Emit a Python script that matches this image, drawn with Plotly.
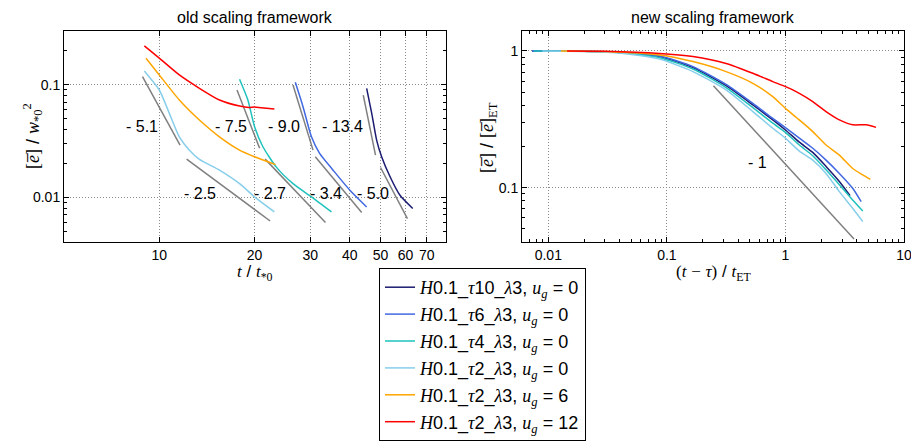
import math
import plotly.graph_objects as go

# ---------------- data: old scaling framework (left) ----------------
old_t_tau10 = [45.2, 46.9, 48.6, 50.4, 53.6, 57.6, 63.2]
old_e_tau10 = [0.0929, 0.0556, 0.0322, 0.0229, 0.0152, 0.0104, 0.00794]
old_t_tau6 = [26.9, 28.45, 30.25, 32.1, 35.4, 40.0, 45.2]
old_e_tau6 = [0.105, 0.0637, 0.0344, 0.0245, 0.0174, 0.01154, 0.0082]
old_t_tau4 = [17.93, 19.05, 20.0, 21.25, 23.4, 26.45, 30.25, 35.0]
old_e_tau4 = [0.1117, 0.0731, 0.0423, 0.0281, 0.0186, 0.0132, 0.01007, 0.0074]
old_t_tau2_u0 = [8.97, 10.0, 10.76, 11.57, 12.45, 13.39, 15.49, 17.93, 20.0, 23.1]
old_e_tau2_u0 = [0.1324, 0.0897, 0.0556, 0.0344, 0.0262, 0.0217, 0.0174, 0.0132, 0.01007, 0.0074]
old_t_tau2_u6 = [9.08, 10.0, 11.57, 13.39, 15.49, 17.93, 20.0, 23.3]
old_e_tau2_u6 = [0.172, 0.122, 0.0731, 0.0485, 0.0344, 0.0262, 0.0229, 0.0195]
old_t_tau2_u12 = [8.97, 10.0, 11.57, 13.39, 15.49, 17.93, 19.2, 20.0, 21.0, 23.1]
old_e_tau2_u12 = [0.221, 0.172, 0.122, 0.0929, 0.0731, 0.0646, 0.0628, 0.0635, 0.0625, 0.0608]

# power-law fit segments (start, end) and slope labels
fit_t = [[8.85, 11.63], [12.2, 22.4], [17.6, 20.75], [21.6, 33.5],
         [26.45, 30.6], [31.1, 43.6], [44.1, 48.2], [50.0, 60.8]]
fit_e = [[0.1178, 0.0290], [0.02178, 0.00615], [0.0897, 0.0272], [0.0218, 0.00595],
         [0.0993, 0.0262], [0.02287, 0.00731], [0.0809, 0.02366], [0.01837, 0.00646]]
slope_labels = ["- 5.1", "- 2.5", "- 7.5", "- 2.7", "- 9.0", "- 3.4", "- 13.4", "- 5.0"]
slope_label_t = [8.83, 13.4, 16.9, 22.3, 24.7, 33.6, 38.0, 47.3]
slope_label_e = [0.0429, 0.01086, 0.0429, 0.01086, 0.0429, 0.01086, 0.0429, 0.01086]

# ---------------- data: new scaling framework (right) ----------------
new_x_tau10 = [0.0073, 0.02, 0.04, 0.0867, 0.166, 0.316, 0.531, 0.782, 1.0, 1.31, 1.70, 2.20, 2.85, 3.51]
new_y_tau10 = [1.0, 0.995, 0.975, 0.91, 0.755, 0.557, 0.403, 0.313, 0.264, 0.215, 0.181, 0.143, 0.111, 0.0873]
new_x_tau6 = [0.0073, 0.02, 0.04, 0.0867, 0.166, 0.316, 0.531, 0.782, 1.0, 1.31, 1.70, 2.20, 2.85, 3.69, 4.35]
new_y_tau6 = [1.0, 0.995, 0.975, 0.918, 0.768, 0.570, 0.414, 0.321, 0.275, 0.230, 0.194, 0.159, 0.127, 0.0989, 0.079]
new_x_tau4 = [0.0075, 0.02, 0.04, 0.0867, 0.166, 0.316, 0.531, 0.782, 1.0, 1.31, 1.70, 2.20, 2.85, 3.69, 4.49]
new_y_tau4 = [1.0, 0.995, 0.972, 0.893, 0.738, 0.539, 0.385, 0.296, 0.254, 0.205, 0.171, 0.135, 0.105, 0.0813, 0.0675]
new_x_tau2_u0 = [0.0089, 0.02, 0.04, 0.0867, 0.166, 0.316, 0.531, 0.782, 1.0, 1.31, 1.70, 2.20, 2.85, 3.69, 4.49]
new_y_tau2_u0 = [1.0, 0.993, 0.968, 0.873, 0.706, 0.519, 0.360, 0.272, 0.230, 0.185, 0.159, 0.127, 0.0935, 0.0706, 0.0564]
new_x_tau2_u6 = [0.0128, 0.03, 0.0867, 0.166, 0.316, 0.531, 0.782, 1.0, 1.31, 1.70, 2.20, 2.85, 3.69, 4.49, 5.2]
new_y_tau2_u6 = [1.0, 0.99, 0.935, 0.836, 0.706, 0.58, 0.463, 0.38, 0.313, 0.257, 0.205, 0.173, 0.138, 0.124, 0.115]
new_x_tau2_u12 = [0.0144, 0.03, 0.0867, 0.166, 0.316, 0.531, 0.782, 1.0, 1.31, 1.70, 2.20, 2.85, 3.69, 4.79, 5.81]
new_y_tau2_u12 = [1.0, 0.995, 0.96, 0.91, 0.81, 0.687, 0.597, 0.548, 0.49, 0.426, 0.36, 0.313, 0.288, 0.288, 0.276]

new_fit_x = [0.247, 3.79]
new_fit_y = [0.557, 0.042]
new_slope_label = "- 1"
new_slope_label_x = 0.577
new_slope_label_y = 0.152

old_xticks = [10, 20, 30, 40, 50, 60, 70]
old_yticks = [0.01, 0.1]
new_xticks = [0.01, 0.1, 1, 10]
new_yticks = [0.1, 1]

# ---------------- style / layout helpers ----------------
SANS = "Liberation Sans, Arial, sans-serif"
SERIF = "Liberation Serif, Times New Roman, serif"
colors = ["#1c1c72", "#4169e1", "#1fc2bd", "#87ceeb", "#ffa500", "#ff0000"]

# the page body has an 8px margin; the figure fills the rest of the 919x444 window
BODY = 8
W, H = 919 - BODY, 444 - BODY


def pxx(x):
    return (x - BODY) / W


def pxy(y):
    return 1 - (y - BODY) / H


def it(s):
    return f"<span style='font-family:{SERIF}'><i>{s}</i></span>"


def rm(s):
    return f"<span style='font-family:{SERIF}'>{s}</span>"


taus = ["10", "6", "4", "2", "2", "2"]
ugs = ["0", "0", "0", "0", "6", "12"]
names = [f"{it('H')}0.1_{it('τ')}{t}_{it('λ')}3, {it('u')}<sub>{it('g')}</sub> = {u}" for t, u in zip(taus, ugs)]

old_xs = [old_t_tau10, old_t_tau6, old_t_tau4, old_t_tau2_u0, old_t_tau2_u6, old_t_tau2_u12]
old_ys = [old_e_tau10, old_e_tau6, old_e_tau4, old_e_tau2_u0, old_e_tau2_u6, old_e_tau2_u12]
new_xs = [new_x_tau10, new_x_tau6, new_x_tau4, new_x_tau2_u0, new_x_tau2_u6, new_x_tau2_u12]
new_ys = [new_y_tau10, new_y_tau6, new_y_tau4, new_y_tau2_u0, new_y_tau2_u6, new_y_tau2_u12]

fig = go.Figure()

for ft, fe in zip(fit_t, fit_e):
    fig.add_trace(go.Scatter(x=ft, y=fe, mode="lines", line=dict(color="#808080", width=1.5),
                             showlegend=False, hoverinfo="skip", xaxis="x", yaxis="y"))
fig.add_trace(go.Scatter(x=new_fit_x, y=new_fit_y, mode="lines", line=dict(color="#808080", width=1.5),
                         showlegend=False, hoverinfo="skip", xaxis="x2", yaxis="y2"))

for i in range(6):
    fig.add_trace(go.Scatter(x=old_xs[i], y=old_ys[i], mode="lines",
                             line=dict(color=colors[i], width=1.5, shape="spline", smoothing=0.6),
                             name=names[i], showlegend=True, legendgroup=str(i), xaxis="x", yaxis="y"))
for i in range(6):
    fig.add_trace(go.Scatter(x=new_xs[i], y=new_ys[i], mode="lines",
                             line=dict(color=colors[i], width=1.5, shape="spline", smoothing=0.6),
                             name=names[i], showlegend=False, legendgroup=str(i), xaxis="x2", yaxis="y2"))

annotations = []
for lab, lx, ly in zip(slope_labels, slope_label_t, slope_label_e):
    annotations.append(dict(x=math.log10(lx), y=math.log10(ly), xref="x", yref="y", text=lab, showarrow=False,
                            xanchor="center", yanchor="middle",
                            font=dict(family=SANS, size=16, color="black")))
annotations.append(dict(x=math.log10(new_slope_label_x), y=math.log10(new_slope_label_y), xref="x2", yref="y2",
                        text=new_slope_label, showarrow=False, xanchor="center", yanchor="middle",
                        font=dict(family=SANS, size=16, color="black")))

# panel titles
annotations.append(dict(x=pxx(255), y=pxy(8), xref="paper", yref="paper", xanchor="center", yanchor="top",
                        borderpad=0, text="old scaling framework", showarrow=False,
                        font=dict(family=SANS, size=16, color="black")))
annotations.append(dict(x=pxx(713), y=pxy(8), xref="paper", yref="paper", xanchor="center", yanchor="top",
                        borderpad=0, text="new scaling framework", showarrow=False,
                        font=dict(family=SANS, size=16, color="black")))

# axis titles
annotations.append(dict(x=pxx(255), y=pxy(273), xref="paper", yref="paper", xanchor="center", yanchor="middle",
                        showarrow=False, borderpad=0, font=dict(family=SANS, size=17, color="black"),
                        text=f"{it('t')} / {it('t')}<sub>{rm('*0')}</sub>"))
annotations.append(dict(x=pxx(713), y=pxy(273), xref="paper", yref="paper", xanchor="center", yanchor="middle",
                        showarrow=False, borderpad=0, font=dict(family=SANS, size=17, color="black"),
                        text=f"{rm('(')}{it('t')} {rm('−')} {it('τ')}{rm(')')} / {it('t')}<sub>{rm('ET')}</sub>"))
annotations.append(dict(x=pxx(32), y=pxy(136), xref="paper", yref="paper", xanchor="center", yanchor="middle",
                        showarrow=False, textangle=-90, font=dict(family=SANS, size=18, color="black"),
                        text=f"{rm('[')}{it('e&#773;')}{rm(']')} / {it('w')}<sub>{rm('*0')}</sub><sup>{rm('2')}</sup>"))
annotations.append(dict(x=pxx(489), y=pxy(137), xref="paper", yref="paper", xanchor="center", yanchor="middle",
                        showarrow=False, textangle=-90, font=dict(family=SANS, size=18, color="black"),
                        text=f"{rm('[')}{it('e&#773;')}{rm(']')} / {rm('[')}{it('e&#773;')}{rm(']')}<sub>{rm('ET')}</sub>"))

axis_common = dict(type="log", showline=True, linecolor="black", linewidth=1, mirror="ticks",
                   ticks="inside", ticklen=5, tickcolor="black", showgrid=True, gridcolor="#8a8a8a",
                   griddash="1px,2px", gridwidth=1, zeroline=False, automargin=False,
                   tickfont=dict(family=SANS, size=14, color="black"))

ydom = [pxy(242), pxy(31)]

fig.update_layout(
    width=W, height=H, margin=dict(l=0, r=0, t=0, b=0, autoexpand=False),
    paper_bgcolor="white", plot_bgcolor="white",
    showlegend=True,
    font=dict(family=SANS, color="black"),
    xaxis=dict(axis_common, domain=[pxx(64), pxx(446)], range=[math.log10(5), math.log10(80.5)],
               tickvals=old_xticks, ticktext=[str(v) for v in old_xticks], anchor="y"),
    yaxis=dict(axis_common, domain=ydom, range=[math.log10(0.004), math.log10(0.3)],
               tickvals=old_yticks, ticktext=["0.01", "0.1"], anchor="x",
               minor=dict(ticks="inside", ticklen=3, tickcolor="black", showgrid=False,
                          tickvals=[0.005, 0.006, 0.007, 0.008, 0.009, 0.02, 0.03, 0.04, 0.05, 0.06, 0.07,
                                    0.08, 0.09, 0.2, 0.3])),
    xaxis2=dict(axis_common, domain=[pxx(522), pxx(904)], range=[math.log10(0.006), 1],
                tickvals=new_xticks, ticktext=["0.01", "0.1", "1", "10"], anchor="y2",
                minor=dict(ticks="inside", ticklen=3, tickcolor="black", showgrid=False,
                           tickvals=[0.007, 0.008, 0.009, 0.02, 0.03, 0.04, 0.05, 0.06, 0.07, 0.08, 0.09,
                                     0.2, 0.3, 0.4, 0.5, 0.6, 0.7, 0.8, 0.9, 2, 3, 4, 5, 6, 7, 8, 9])),
    yaxis2=dict(axis_common, domain=ydom, range=[math.log10(0.04), math.log10(1.4)],
                tickvals=new_yticks, ticktext=["0.1", "1"], anchor="x2",
                minor=dict(ticks="inside", ticklen=3, tickcolor="black", showgrid=False,
                           tickvals=[0.05, 0.06, 0.07, 0.08, 0.09, 0.2, 0.3, 0.4, 0.5, 0.6, 0.7, 0.8, 0.9])),
    legend=dict(x=pxx(379), y=pxy(268), xanchor="left", yanchor="top",
                bordercolor="black", borderwidth=1, bgcolor="white",
                font=dict(family=SANS, size=18, color="black"), tracegroupgap=0.5),
    annotations=annotations,
)

fig.write_html("out.html")
